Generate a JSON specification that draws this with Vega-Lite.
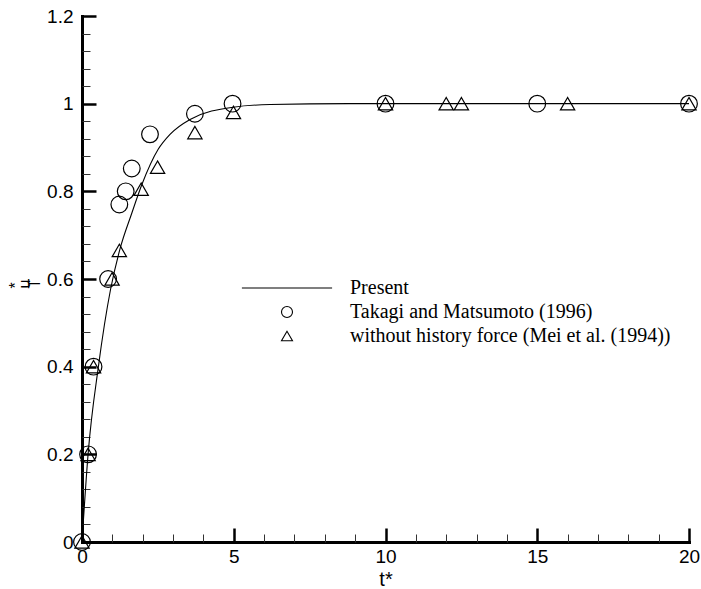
{
  "$schema": "https://vega.github.io/schema/vega-lite/v6.json",
  "width": 607,
  "height": 526,
  "autosize": {"type": "none"},
  "padding": {"left": 82, "top": 16, "right": 12, "bottom": 47},
  "background": "white",
  "config": {
    "view": {"stroke": null},
    "axis": {"grid": false},
    "legend": {
      "labelFont": "Liberation Serif",
      "labelFontSize": 20,
      "labelColor": "black",
      "labelLimit": 0,
      "symbolSize": 121,
      "symbolStrokeWidth": 1.1,
      "symbolStrokeColor": "black",
      "padding": 0
    }
  },
  "datasets": {
    "curve": [
      {"t": 0, "u": 0},
      {"t": 0.2, "u": 0.2},
      {"t": 0.54, "u": 0.4},
      {"t": 0.94, "u": 0.576},
      {"t": 1.25, "u": 0.668},
      {"t": 1.64, "u": 0.75},
      {"t": 1.97, "u": 0.815},
      {"t": 2.51, "u": 0.896},
      {"t": 2.9, "u": 0.93},
      {"t": 3.56, "u": 0.964},
      {"t": 4.98, "u": 0.992},
      {"t": 6.2, "u": 0.998},
      {"t": 8.8, "u": 1.0},
      {"t": 20, "u": 1.0}
    ],
    "pts": [
      {"series": "Takagi and Matsumoto (1996)", "t": 0, "u": 0},
      {"series": "Takagi and Matsumoto (1996)", "t": 0.2, "u": 0.2},
      {"series": "Takagi and Matsumoto (1996)", "t": 0.38, "u": 0.4},
      {"series": "Takagi and Matsumoto (1996)", "t": 0.86, "u": 0.6},
      {"series": "Takagi and Matsumoto (1996)", "t": 1.23, "u": 0.77},
      {"series": "Takagi and Matsumoto (1996)", "t": 1.44, "u": 0.8},
      {"series": "Takagi and Matsumoto (1996)", "t": 1.64, "u": 0.852},
      {"series": "Takagi and Matsumoto (1996)", "t": 2.24, "u": 0.93},
      {"series": "Takagi and Matsumoto (1996)", "t": 3.72, "u": 0.977},
      {"series": "Takagi and Matsumoto (1996)", "t": 4.96, "u": 1.0},
      {"series": "Takagi and Matsumoto (1996)", "t": 10, "u": 1.0},
      {"series": "Takagi and Matsumoto (1996)", "t": 15, "u": 1.0},
      {"series": "Takagi and Matsumoto (1996)", "t": 20, "u": 1.0},
      {"series": "without history force (Mei et al. (1994))", "t": 0, "u": 0},
      {"series": "without history force (Mei et al. (1994))", "t": 0.2, "u": 0.2},
      {"series": "without history force (Mei et al. (1994))", "t": 0.38, "u": 0.4},
      {"series": "without history force (Mei et al. (1994))", "t": 0.99, "u": 0.6},
      {"series": "without history force (Mei et al. (1994))", "t": 1.23, "u": 0.665},
      {"series": "without history force (Mei et al. (1994))", "t": 1.95, "u": 0.805},
      {"series": "without history force (Mei et al. (1994))", "t": 2.49, "u": 0.855},
      {"series": "without history force (Mei et al. (1994))", "t": 3.72, "u": 0.934},
      {"series": "without history force (Mei et al. (1994))", "t": 4.99, "u": 0.98},
      {"series": "without history force (Mei et al. (1994))", "t": 10, "u": 1.0},
      {"series": "without history force (Mei et al. (1994))", "t": 12, "u": 1.0},
      {"series": "without history force (Mei et al. (1994))", "t": 12.5, "u": 1.0},
      {"series": "without history force (Mei et al. (1994))", "t": 16, "u": 1.0},
      {"series": "without history force (Mei et al. (1994))", "t": 20, "u": 1.0}
    ]
  },
  "layer": [
    {
      "data": {"name": "curve"},
      "mark": {"type": "line", "color": "black", "strokeWidth": 1.1, "interpolate": "monotone"},
      "encoding": {
        "x": {
          "field": "t", "type": "quantitative",
          "scale": {"domain": [0, 20], "nice": false, "zero": false},
          "axis": {
            "orient": "bottom",
            "values": [0, 5, 10, 15, 20],
            "format": "~g",
            "tickSize": -14, "tickWidth": 2.5, "tickColor": "black", "tickCap": "butt",
            "domainWidth": 3, "domainColor": "black", "domainCap": "square",
            "labelFont": "Liberation Sans", "labelFontSize": 19, "labelColor": "black",
            "labelPadding": 19, "labelFlush": false, "labelOverlap": false,
            "title": "t*", "titleFont": "Liberation Sans", "titleFontSize": 20,
            "titleFontWeight": "normal", "titleColor": "black", "titleY": 27
          }
        },
        "y": {
          "field": "u", "type": "quantitative",
          "scale": {"domain": [0, 1.2], "nice": false, "zero": false},
          "axis": {
            "orient": "left",
            "values": [0, 0.2, 0.4, 0.6, 0.8, 1, 1.2],
            "format": "~g",
            "tickSize": -14, "tickWidth": 2.5, "tickColor": "black", "tickCap": "butt",
            "domainWidth": 3, "domainColor": "black", "domainCap": "square",
            "labelFont": "Liberation Sans", "labelFontSize": 19, "labelColor": "black",
            "labelPadding": 23, "labelOverlap": false, "labelFlush": false,
            "title": ["\u2002\u2009*", "u", "\u2002\u200aT"],
            "titleFont": "Liberation Sans", "titleFontSize": 16, "titleFontWeight": "normal",
            "titleColor": "black", "titleAlign": "left", "titleBaseline": "middle",
            "titleLineHeight": 9.5, "titleAngle": 270, "titleX": -67, "titleY": 272
          }
        }
      }
    },
    {
      "data": {"name": "pts"},
      "transform": [{"filter": "datum.series === 'Takagi and Matsumoto (1996)'"}],
      "mark": {"type": "point", "filled": false, "color": "black", "strokeWidth": 1.2, "size": 279, "opacity": 1},
      "encoding": {
        "x": {
          "field": "t", "type": "quantitative",
          "scale": {"domain": [0, 20], "nice": false, "zero": false},
          "axis": {
            "orient": "bottom",
            "values": [1, 2, 3, 4, 6, 7, 8, 9, 11, 12, 13, 14, 16, 17, 18, 19],
            "tickSize": -8, "tickWidth": 1, "tickColor": "#333333",
            "domain": false, "labels": false, "title": null, "grid": false
          }
        },
        "y": {
          "field": "u", "type": "quantitative",
          "scale": {"domain": [0, 1.2], "nice": false, "zero": false},
          "axis": {
            "orient": "left",
            "values": [0.04, 0.08, 0.12, 0.16, 0.24, 0.28, 0.32, 0.36, 0.44, 0.48, 0.52, 0.56, 0.64, 0.68, 0.72, 0.76, 0.84, 0.88, 0.92, 0.96, 1.04, 1.08, 1.12, 1.16],
            "tickSize": -8, "tickWidth": 1, "tickColor": "#333333",
            "domain": false, "labels": false, "title": null, "grid": false
          }
        },
        "shape": {
          "field": "series", "type": "nominal",
          "scale": {
            "domain": ["Present", "Takagi and Matsumoto (1996)", "without history force (Mei et al. (1994))"],
            "range": ["M-8.2,0H8.2", "circle", "triangle-up"]
          },
          "legend": {
            "title": null, "orient": "none", "legendX": 195, "legendY": 262,
            "labelOffset": 53, "labelBaseline": "middle", "rowPadding": 4
          }
        }
      }
    },
    {
      "data": {"name": "pts"},
      "transform": [{"filter": "datum.series !== 'Takagi and Matsumoto (1996)'"}],
      "mark": {"type": "point", "filled": false, "color": "black", "strokeWidth": 1.2, "size": 205, "opacity": 1},
      "encoding": {
        "x": {"field": "t", "type": "quantitative", "scale": {"domain": [0, 20], "nice": false, "zero": false}, "axis": null},
        "y": {"field": "u", "type": "quantitative", "scale": {"domain": [0, 1.2], "nice": false, "zero": false}, "axis": null},
        "shape": {
          "field": "series", "type": "nominal",
          "scale": {
            "domain": ["Present", "Takagi and Matsumoto (1996)", "without history force (Mei et al. (1994))"],
            "range": ["M-8.2,0H8.2", "circle", "triangle-up"]
          },
          "legend": {
            "title": null, "orient": "none", "legendX": 195, "legendY": 262,
            "labelOffset": 53, "labelBaseline": "middle", "rowPadding": 4
          }
        }
      }
    }
  ],
  "resolve": {"axis": {"x": "independent", "y": "independent"}}
}
